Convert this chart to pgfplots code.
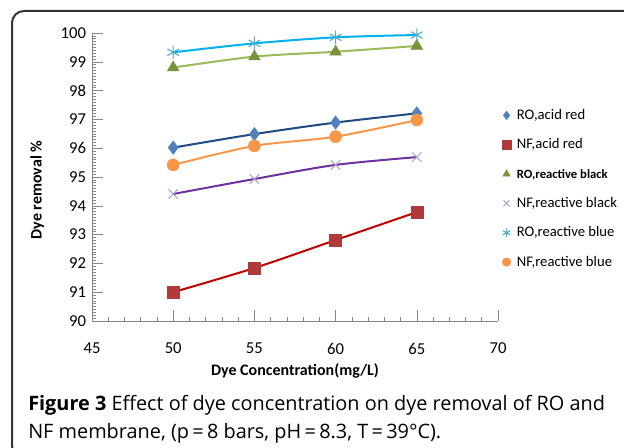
\documentclass[border=0pt]{standalone}
\usepackage{pgfplots}
\pgfplotsset{compat=1.18}
\usepackage{fontspec}
\setmainfont{Carlito}
\newfontfamily\capfont{Open Sans}
\definecolor{axgray}{HTML}{868686}
\definecolor{mblue}{HTML}{4F81BD}
\definecolor{lnavy}{HTML}{1F4A82}
\definecolor{mred}{HTML}{B03A3A}
\definecolor{lred}{HTML}{C00000}
\definecolor{mgreen}{HTML}{77933C}
\definecolor{lgreen}{HTML}{9BBB59}
\definecolor{mpurple}{HTML}{B3A2C7}
\definecolor{lpurple}{HTML}{7030A0}
\definecolor{mcyan}{HTML}{4BACC6}
\definecolor{lcyan}{HTML}{00B0F0}
\definecolor{orng}{HTML}{F79646}
\begin{document}
\begin{tikzpicture}
% frame round the figure
\begin{scope}
\clip (0,0) rectangle (468pt,335.25pt);
\draw[line width=1.5pt, black!80, rounded corners=9pt] (9pt,327pt) rectangle (480pt,-8.25pt);
\end{scope}
\begin{axis}[
    at={(69pt,94.5pt)}, anchor=south west,
    scale only axis,
    width=304.5pt, height=216pt,
    xmin=45, xmax=70, ymin=90, ymax=100,
    axis x line=bottom, axis y line=left,
    axis line style={axgray, -},
    xtick={45,50,...,70}, ytick={90,91,...,100},
    minor x tick num=4, minor y tick num=9,
    tick style={axgray, thin},
    major tick length=8pt, minor tick length=3pt,
    tick align=inside,
    every major tick/.append style={tick align=center},
    /pgf/number format/assume math mode=true,
    ticklabel style={font=\fontsize{12.5}{14}\selectfont},
    xticklabel style={yshift=-13pt},
    yticklabel style={xshift=-1pt},
    xlabel={\textbf{Dye Concentration(mg/L)}},
    ylabel={\textbf{Dye removal \%}},
    every axis x label/.style={at={(axis description cs:0.5,-0.175)}, anchor=center, font=\fontsize{12}{14}\selectfont},
    every axis y label/.style={at={(axis description cs:-0.135,0.455)}, anchor=center, rotate=90, font=\fontsize{12}{14}\selectfont},
    legend style={at={(axis description cs:1.01,0.738)}, anchor=north west, draw=none, fill=none,
        inner sep=0pt, row sep=12pt, font=\fontsize{11}{13}\selectfont,
        nodes={inner sep=0pt, text height=8pt, text depth=2pt}},
    legend cell align=left,
    legend image code/.code={\draw[#1, mark size=3.2pt] plot coordinates {(0pt,0pt)};},
    /tikz/every odd column/.append style={column sep=4.5pt},
    clip=false,
]
% trend lines
\addplot[lnavy, line width=1.5pt, smooth, forget plot] coordinates {(50,96.02) (55,96.49) (60,96.89) (65,97.21)};
\addplot[lred, line width=1.5pt, smooth, forget plot] coordinates {(50,91.00) (55,91.84) (60,92.81) (65,93.78)};
\addplot[lgreen, line width=1.5pt, smooth, forget plot] coordinates {(50,98.80) (55,99.18) (60,99.35) (65,99.55)};
\addplot[lpurple, line width=1.5pt, smooth, forget plot] coordinates {(50,94.41) (55,94.93) (60,95.42) (65,95.69)};
\addplot[lcyan, line width=1.5pt, smooth, forget plot] coordinates {(50,99.33) (55,99.64) (60,99.85) (65,99.93)};
\addplot[orng, line width=1.5pt, smooth, forget plot] coordinates {(50,95.42) (55,96.08) (60,96.40) (65,96.98)};
% markers
\addplot[only marks, mark=diamond*, mark size=5pt, mark options={draw=mblue, fill=mblue}] coordinates {(50,96.02) (55,96.49) (60,96.89) (65,97.21)};
\addplot[only marks, mark=square*, mark size=4.5pt, mark options={draw=mred, fill=mred}] coordinates {(50,91.00) (55,91.84) (60,92.81) (65,93.78)};
\addplot[only marks, mark=triangle*, mark size=5pt, mark options={draw=mgreen, fill=mgreen}] coordinates {(50,98.80) (55,99.18) (60,99.35) (65,99.55)};
\addplot[only marks, mark=x, mark size=5pt, mark options={draw=mpurple, line width=0.8pt}] coordinates {(50,94.41) (55,94.93) (60,95.42) (65,95.69)};
\addplot[only marks, mark=asterisk, mark size=5pt, mark options={draw=mcyan, line width=0.8pt}] coordinates {(50,99.33) (55,99.64) (60,99.85) (65,99.93)};
\addplot[only marks, mark=*, mark size=4.5pt, mark options={draw=orng, fill=orng}] coordinates {(50,95.42) (55,96.08) (60,96.40) (65,96.98)};
\legend{RO{,}acid red, NF{,}acid red, {\fontsize{9.5}{11}\selectfont\bfseries RO{,}reactive black}, NF{,}reactive black, RO{,}reactive blue, NF{,}reactive blue}
\end{axis}
% caption
\node[anchor=base west, inner sep=0pt, font=\capfont\fontsize{14.9}{17}\selectfont] at (21pt,27.5pt)
    {\textbf{Figure 3} Effect of dye concentration on dye removal of RO and};
\node[anchor=base west, inner sep=0pt, font=\capfont\fontsize{14.9}{17}\selectfont] at (21pt,6.5pt)
    {NF membrane, (p\,=\,8 bars, pH\,=\,8.3, T\,=\,39°C).};
\pgfresetboundingbox
\path[use as bounding box] (0,0) rectangle (468pt,335.25pt);
\end{tikzpicture}
\end{document}
